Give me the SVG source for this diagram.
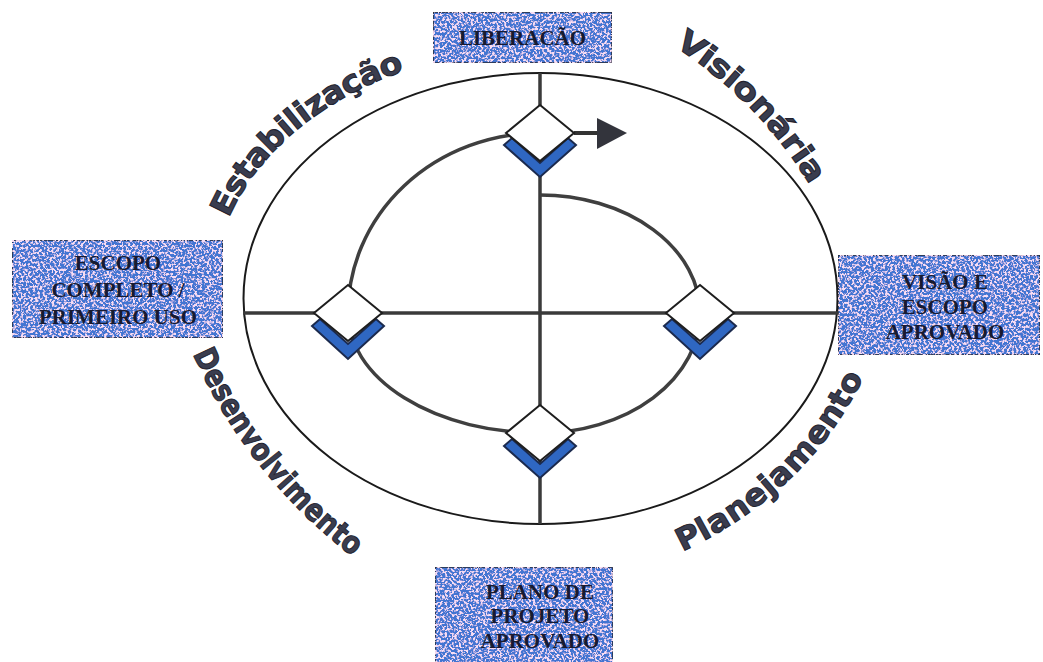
<svg xmlns="http://www.w3.org/2000/svg" width="1043" height="662" viewBox="0 0 1043 662">
  <style>
    .frame { fill: none; stroke: #1a1a1a; stroke-width: 2; }
    .axis { stroke: #3a3a3a; stroke-width: 3.5; fill: none; }
    .loop { stroke: #3f3f3f; stroke-width: 3.5; fill: none; }
    .gate { fill: #ffffff; stroke: #1e1e1e; stroke-width: 2; stroke-linejoin: miter; }
    .chev { fill: #2f67c2; stroke: #1b2a4e; stroke-width: 2; stroke-linejoin: miter; }
    .card { fill: #4274d2; stroke: #2a2a36; stroke-width: 1.5; }
    .cardtext { font-family: "Liberation Serif", "Times New Roman", serif; font-weight: bold; font-size: 21px; fill: #181a30; text-anchor: middle; }
    .phase { font-family: "DejaVu Sans", "Liberation Sans", sans-serif; font-weight: bold; font-size: 31px; fill: #3a3d4e; stroke: #22222e; stroke-width: 1; dominant-baseline: central; }
  </style>
  <defs>
    <!-- speckled fill for the milestone cards -->
    <filter id="speckle" x="0" y="0" width="100%" height="100%">
      <feTurbulence type="fractalNoise" baseFrequency="0.42" numOctaves="3" seed="7" result="noise"/>
      <feColorMatrix in="noise" type="matrix" values="0 0 0 0 0.94  0 0 0 0 0.72  0 0 0 0 0.9  7 0 0 0 -3.4" result="dots"/>
      <feComposite in="dots" in2="SourceGraphic" operator="in" result="clipped"/>
      <feMerge>
        <feMergeNode in="SourceGraphic"/>
        <feMergeNode in="clipped"/>
      </feMerge>
    </filter>
    <!-- baselines for the phase names -->
    <path id="arcEstab" d="M 216,220 A 338 256 0 0 1 408,58"/>
    <path id="arcVision" d="M 676,34 Q 770,95 822,184"/>
    <path id="arcPlan" d="M 668,546 Q 803,486 858,363"/>
    <path id="arcDesenv" d="M 200,343 Q 255,470 365,552"/>
  </defs>

  <rect width="1043" height="662" fill="#ffffff"/>

  <!-- cycle frame and axes -->
  <g id="connectors">
    <ellipse class="frame" cx="540.5" cy="298.5" rx="297" ry="225.5"/>
    <line class="axis" x1="243" y1="313" x2="838" y2="313"/>
    <line class="axis" x1="540" y1="73" x2="540" y2="524"/>
    <path class="loop" d="M 540,133 A 192 180 0 0 0 348,313"/>
    <path class="loop" d="M 348,313 A 192 120 0 0 0 540,433"/>
    <path class="loop" d="M 540,433 A 160 120 0 0 0 700,313"/>
    <path class="loop" d="M 700,313 A 160 118 0 0 0 540,195"/>
    <line x1="574" y1="133" x2="599" y2="133" stroke="#333" stroke-width="4"/>
    <polygon points="597,118 627,133 597,149" fill="#33343c"/>
  </g>

  <!-- milestone gates -->
  <g id="gate-top">
    <polygon class="chev" points="504,145 540,177 576,145 568,138 540,163 512,138"/>
    <polygon class="gate" points="540,105 574,133 540,161 506,133"/>
  </g>
  <g id="gate-left">
    <polygon class="chev" points="312,326 348,359 384,326 376,319 348,344 320,319"/>
    <polygon class="gate" points="348,285 382,313 348,341 314,313"/>
  </g>
  <g id="gate-right">
    <polygon class="chev" points="664,326 700,359 736,326 728,319 700,344 672,319"/>
    <polygon class="gate" points="700,285 734,313 700,341 666,313"/>
  </g>
  <g id="gate-bottom">
    <polygon class="chev" points="504,446 540,478 576,446 568,439 540,464 512,439"/>
    <polygon class="gate" points="540,405 574,433 540,461 506,433"/>
  </g>

  <!-- milestone cards -->
  <g id="card-liberacao">
    <rect class="card" x="433" y="12" width="179" height="51" filter="url(#speckle)"/>
    <text class="cardtext" x="522.5" y="45">LIBERACÃO</text>
  </g>
  <g id="card-escopo">
    <rect class="card" x="12" y="240" width="211" height="98" filter="url(#speckle)"/>
    <text class="cardtext" x="118" y="270">ESCOPO</text>
    <text class="cardtext" x="118" y="297">COMPLETO /</text>
    <text class="cardtext" x="118" y="324">PRIMEIRO USO</text>
  </g>
  <g id="card-visao">
    <rect class="card" x="838" y="255" width="202" height="100" filter="url(#speckle)"/>
    <text class="cardtext" x="945" y="289">VISÃO E</text>
    <text class="cardtext" x="945" y="314">ESCOPO</text>
    <text class="cardtext" x="945" y="339">APROVADO</text>
  </g>
  <g id="card-plano">
    <rect class="card" x="435" y="567" width="178" height="100" filter="url(#speckle)"/>
    <text class="cardtext" x="540" y="599">PLANO DE</text>
    <text class="cardtext" x="540" y="623">PROJETO</text>
    <text class="cardtext" x="540" y="648">APROVADO</text>
  </g>

  <!-- phase names -->
  <g id="phase-estabilizacao">
    <text class="phase"><textPath href="#arcEstab" startOffset="50%" text-anchor="middle" textLength="244" lengthAdjust="spacingAndGlyphs">Estabilização</textPath></text>
  </g>
  <g id="phase-visionaria">
    <text class="phase"><textPath href="#arcVision" startOffset="50%" text-anchor="middle" textLength="200" lengthAdjust="spacingAndGlyphs">Visionária</textPath></text>
  </g>
  <g id="phase-planejamento">
    <text class="phase"><textPath href="#arcPlan" startOffset="50%" text-anchor="middle" textLength="250" lengthAdjust="spacingAndGlyphs">Planejamento</textPath></text>
  </g>
  <g id="phase-desenvolvimento">
    <text class="phase"><textPath href="#arcDesenv" startOffset="50%" text-anchor="middle" textLength="256" lengthAdjust="spacingAndGlyphs">Desenvolvimento</textPath></text>
  </g>
</svg>
